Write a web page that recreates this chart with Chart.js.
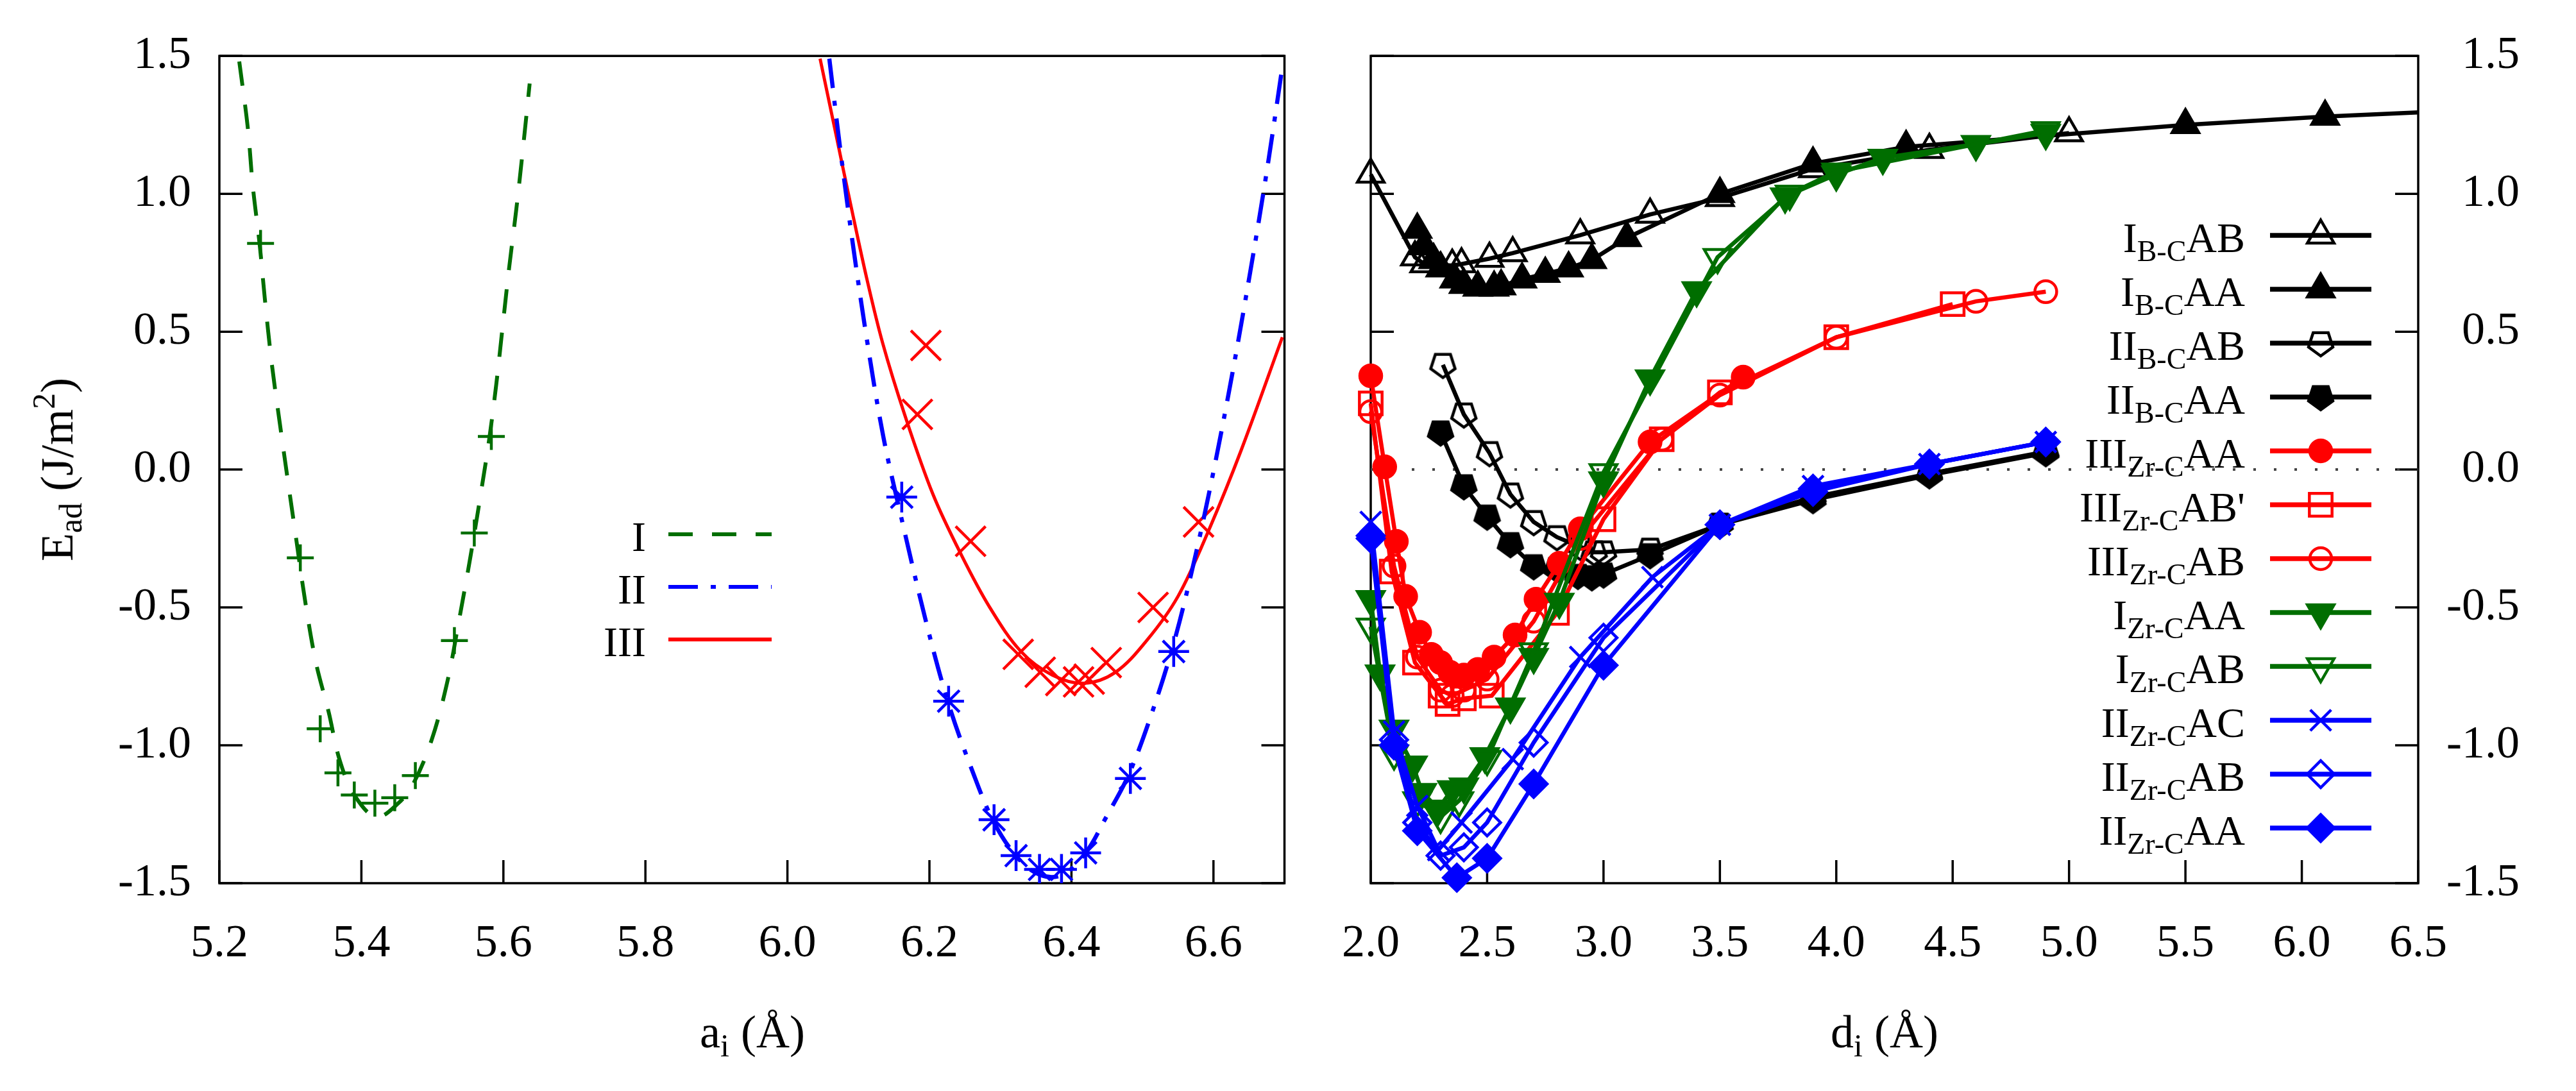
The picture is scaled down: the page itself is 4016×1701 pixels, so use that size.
<!DOCTYPE html>
<html lang="en">
<head>
  <meta charset="UTF-8" />
  <title>Adhesion energy curves</title>
  <script src="https://cdn.jsdelivr.net/npm/chart.js"></script>
  <style>
    body {
      margin: 0;
      background: #fff;
      font-family: "Liberation Serif", "Times New Roman", serif;
    }
    #page {
      position: relative;
      width: 4016px;
      height: 1701px;
    }
    .box {
      position: absolute;
      top: 0;
      height: 1701px;
    }
    .axtitle {
      position: absolute;
      font-size: 72px;
      line-height: 1;
      white-space: nowrap;
      color: #000;
    }
    .lo { position: relative; top: 14px; font-size: 50px; }
    .hi { position: relative; top: -28px; font-size: 50px; }
  </style>
</head>
<body>
  <div id="page">
    <div class="box" style="left:0; width:2040px;"><canvas id="fitChart"></canvas></div>
    <div class="box" style="left:2040px; width:1976px;"><canvas id="sepChart"></canvas></div>

    <div class="axtitle" style="left:89px; top:732px; transform:translate(-50%,-50%) rotate(-90deg);">E<span class="lo">ad</span> (J/m<span class="hi">2</span>)</div>
    <div class="axtitle" style="left:1173px; top:1573px; transform:translateX(-50%);">a<span class="lo">i</span> (Å)</div>
    <div class="axtitle" style="left:2938px; top:1573px; transform:translateX(-50%);">d<span class="lo">i</span> (Å)</div>
  </div>

  <script>
    // ticks
    const leftXTicks = [5.2, 5.4, 5.6, 5.8, 6.0, 6.2, 6.4, 6.6];
    const rightXTicks = [2.0, 2.5, 3.0, 3.5, 4.0, 4.5, 5.0, 5.5, 6.0, 6.5];
    const yTicks = [-1.5, -1.0, -0.5, 0.0, 0.5, 1.0, 1.5];

    // left panel: lattice parameter scans (fits + computed points)
    const fitI = [[5.228,1.48],[5.240,1.24],[5.247,1.03],[5.257,0.81],[5.264,0.62],[5.274,0.38],[5.285,0.17],
      [5.297,-0.05],[5.307,-0.23],[5.321,-0.48],[5.336,-0.70],[5.354,-0.88],[5.369,-1.05],[5.390,-1.18],
      [5.421,-1.26],[5.452,-1.21],[5.473,-1.14],[5.499,-0.98],[5.521,-0.77],[5.538,-0.54],[5.554,-0.31],
      [5.568,-0.09],[5.580,0.11],[5.590,0.31],[5.599,0.52],[5.608,0.73],[5.618,0.94],[5.627,1.15],[5.637,1.40]];
    const fitII = [[6.059,1.49],[6.074,1.17],[6.092,0.82],[6.112,0.47],[6.135,0.12],[6.160,-0.17],[6.196,-0.56],
      [6.227,-0.85],[6.260,-1.09],[6.291,-1.28],[6.325,-1.41],[6.356,-1.47],[6.387,-1.47],[6.420,-1.39],
      [6.449,-1.26],[6.480,-1.11],[6.511,-0.90],[6.544,-0.63],[6.573,-0.33],[6.599,-0.02],[6.626,0.34],
      [6.652,0.72],[6.675,1.08],[6.697,1.46]];
    const fitIII = [[6.046,1.49],[6.068,1.22],[6.090,0.95],[6.112,0.69],[6.134,0.46],[6.165,0.20],[6.205,-0.09],
      [6.245,-0.31],[6.285,-0.50],[6.329,-0.66],[6.373,-0.745],[6.418,-0.775],[6.462,-0.735],[6.506,-0.62],
      [6.550,-0.46],[6.595,-0.21],[6.639,0.07],[6.697,0.48]];
    const ptsI = [[5.258,0.82],[5.314,-0.32],[5.342,-0.94],[5.367,-1.10],[5.390,-1.18],[5.419,-1.21],
      [5.447,-1.19],[5.476,-1.11],[5.531,-0.62],[5.559,-0.23],[5.583,0.12]];
    const ptsII = [[6.161,-0.10],[6.227,-0.84],[6.291,-1.27],[6.322,-1.40],[6.355,-1.45],[6.386,-1.45],
      [6.420,-1.39],[6.483,-1.12],[6.544,-0.66]];
    const ptsIII = [[6.195,0.45],[6.183,0.20],[6.258,-0.26],[6.325,-0.67],[6.356,-0.735],[6.385,-0.765],
      [6.410,-0.77],[6.425,-0.76],[6.449,-0.70],[6.515,-0.50],[6.579,-0.19]];

    // right panel: separation scans
    const ibcAB = [[2.00,1.07],[2.19,0.77],[2.23,0.745],[2.35,0.74],[2.39,0.745],[2.51,0.765],[2.61,0.785],
      [2.90,0.85],[3.20,0.925],[3.50,0.985],[3.90,1.09],[4.40,1.16],[5.00,1.22]];
    const ibcAA = [[2.20,0.87],[2.23,0.81],[2.27,0.76],[2.30,0.73],[2.36,0.69],[2.40,0.67],[2.46,0.66],
      [2.53,0.66],[2.56,0.665],[2.65,0.69],[2.75,0.71],[2.85,0.73],[2.95,0.76],[3.10,0.84],[3.50,1.00],
      [3.90,1.11],[4.30,1.17],[5.50,1.25],[6.10,1.28],[6.50,1.295]];
    const iibcAB = [[2.31,0.38],[2.40,0.20],[2.51,0.06],[2.60,-0.09],[2.70,-0.19],[2.80,-0.245],[2.90,-0.28],
      [2.96,-0.30],[3.00,-0.30],[3.20,-0.29],[3.50,-0.20],[3.90,-0.10],[4.40,-0.015],[4.90,0.065]];
    const iibcAA = [[2.30,0.135],[2.40,-0.06],[2.50,-0.17],[2.60,-0.27],[2.70,-0.35],[2.80,-0.36],[2.89,-0.385],
      [2.95,-0.39],[3.00,-0.38],[3.20,-0.31],[3.50,-0.20],[3.90,-0.11],[4.40,-0.02],[4.90,0.06]];
    const iiizrAA = [[2.00,0.34],[2.06,0.01],[2.11,-0.26],[2.15,-0.46],[2.21,-0.59],[2.26,-0.67],[2.30,-0.70],
      [2.34,-0.735],[2.40,-0.745],[2.46,-0.725],[2.53,-0.68],[2.62,-0.60],[2.71,-0.47],[2.81,-0.34],
      [2.90,-0.215],[3.20,0.10],[3.60,0.335]];
    const iiizrABp = [[2.00,0.24],[2.09,-0.37],[2.19,-0.70],[2.30,-0.82],[2.33,-0.85],[2.40,-0.83],[2.52,-0.82],
      [2.80,-0.52],[3.00,-0.18],[3.25,0.11],[3.50,0.28],[4.00,0.48],[4.50,0.60]];
    const iiizrAB = [[2.00,0.21],[2.10,-0.35],[2.20,-0.68],[2.30,-0.80],[2.35,-0.82],[2.40,-0.80],[2.50,-0.76],
      [2.70,-0.55],[2.90,-0.25],[3.25,0.11],[3.50,0.27],[4.00,0.48],[4.60,0.61],[4.90,0.645]];
    const izrAA = [[2.00,-0.47],[2.04,-0.74],[2.10,-0.94],[2.18,-1.07],[2.22,-1.17],[2.29,-1.23],[2.35,-1.16],
      [2.40,-1.15],[2.49,-1.04],[2.60,-0.86],[2.70,-0.68],[2.81,-0.48],[3.00,-0.04],[3.20,0.33],[3.40,0.65],
      [3.78,0.99],[4.00,1.07],[4.20,1.13],[4.60,1.18],[4.90,1.22]];
    const izrAB = [[2.00,-0.57],[2.10,-1.03],[2.20,-1.20],[2.30,-1.26],[2.38,-1.20],[2.50,-1.05],[2.70,-0.66],
      [3.00,-0.01],[3.49,0.77],[3.80,1.00],[4.00,1.08],[4.90,1.23]];
    const iizrAC = [[2.00,-0.19],[2.10,-0.95],[2.20,-1.22],[2.29,-1.38],[2.39,-1.28],[2.61,-1.05],[2.90,-0.68],
      [3.21,-0.39],[3.50,-0.20],[3.90,-0.06],[4.40,0.02],[4.90,0.10]];
    const iizrAB = [[2.00,-0.24],[2.10,-0.98],[2.20,-1.28],[2.30,-1.40],[2.40,-1.37],[2.50,-1.28],[2.70,-0.99],
      [3.00,-0.61],[3.50,-0.20],[3.90,-0.07],[4.40,0.02],[4.90,0.10]];
    const iizrAA = [[2.00,-0.25],[2.10,-1.00],[2.20,-1.31],[2.37,-1.48],[2.50,-1.41],[2.70,-1.14],[3.00,-0.71],
      [3.50,-0.20],[3.90,-0.08],[4.40,0.02],[4.90,0.10]];
    const zeroLine = [[2.0,0],[6.5,0]];

    const GREEN = "#006e00", BLUE = "#0000ff", RED = "#ff0000", BLACK = "#000000";
    const NONE = "rgba(0,0,0,0)";

    Chart.defaults.font.family = "'Liberation Serif', 'Times New Roman', serif";
    Chart.defaults.color = "#000";

    const xy = arr => arr.map(([x, y]) => ({ x, y }));

    // pentagon marker (point down) drawn once into a small canvas
    function pentagon(filled) {
      const c = document.createElement("canvas");
      c.width = 52; c.height = 52;
      const g = c.getContext("2d");
      g.beginPath();
      for (let k = 0; k < 5; k++) {
        const a = Math.PI / 2 + k * 2 * Math.PI / 5;
        const px = 26 + 20 * Math.cos(a), py = 26 + 20 * Math.sin(a);
        if (k) g.lineTo(px, py); else g.moveTo(px, py);
      }
      g.closePath();
      g.lineWidth = 4.5;
      g.strokeStyle = BLACK;
      if (filled) { g.fillStyle = BLACK; g.fill(); }
      g.stroke();
      return c;
    }

    // box + inward ticks like gnuplot (no top ticks)
    const framePlugin = {
      id: "frame",
      beforeDatasetsDraw(chart) {
        const { ctx, chartArea: a, scales } = chart;
        const yS = scales.y;
        ctx.save();
        ctx.strokeStyle = BLACK;
        ctx.lineWidth = 3.5;
        ctx.strokeRect(a.left, a.top, a.right - a.left, a.bottom - a.top);
        ctx.beginPath();
        scales.x.ticks.forEach(t => {
          const px = scales.x.getPixelForValue(t.value);
          ctx.moveTo(px, a.bottom);
          ctx.lineTo(px, a.bottom - 36);
        });
        yS.ticks.forEach(t => {
          const py = yS.getPixelForValue(t.value);
          ctx.moveTo(a.left, py); ctx.lineTo(a.left + 36, py);
          ctx.moveTo(a.right, py); ctx.lineTo(a.right - 36, py);
        });
        ctx.stroke();
        ctx.restore();
      }
    };

    // key with subscripts, drawn inside the plot
    function keyPlugin(id, items, cfg) {
      return {
        id,
        afterDatasetsDraw(chart) {
          const ctx = chart.ctx;
          const off = chart.canvas.parentNode.offsetLeft;
          items.forEach((it, i) => {
            const ds = chart.data.datasets[it.ds];
            const y = cfg.y0 + i * cfg.dy;
            const mainFont = cfg.size + "px 'Liberation Serif', serif";
            const subFont = cfg.subSize + "px 'Liberation Serif', serif";
            ctx.save();
            ctx.fillStyle = BLACK;
            ctx.textBaseline = "alphabetic";
            ctx.font = mainFont;
            const w1 = ctx.measureText(it.main).width;
            const w3 = ctx.measureText(it.tail || "").width;
            ctx.font = subFont;
            const w2 = it.sub ? ctx.measureText(it.sub).width : 0;
            let x = cfg.textRight - off - (w1 + w2 + w3);
            ctx.font = mainFont;
            ctx.fillText(it.main, x, y + cfg.base);
            x += w1;
            if (it.sub) {
              ctx.font = subFont;
              ctx.fillText(it.sub, x, y + cfg.base + cfg.subDrop);
              x += w2;
            }
            if (it.tail) {
              ctx.font = mainFont;
              ctx.fillText(it.tail, x, y + cfg.base);
            }
            // line sample
            ctx.strokeStyle = ds.borderColor;
            ctx.lineWidth = cfg.lineWidth || ds.borderWidth;
            ctx.setLineDash(ds.borderDash || []);
            ctx.beginPath();
            ctx.moveTo(cfg.x0 - off, y);
            ctx.lineTo(cfg.x1 - off, y);
            ctx.stroke();
            ctx.setLineDash([]);
            if (it.marker) {
              ctx.fillStyle = ds.pointBackgroundColor;
              ctx.strokeStyle = ds.pointBorderColor;
              ctx.lineWidth = ds.pointBorderWidth;
              Chart.helpers.drawPoint(ctx, {
                pointStyle: ds.pointStyle,
                radius: ds.keyRadius,
                rotation: ds.pointRotation || 0,
                borderWidth: ds.pointBorderWidth
              }, (cfg.x0 + cfg.x1) / 2 - off, y);
            }
            ctx.restore();
          });
        }
      };
    }

    function axes(xMin, xMax, xTicks, yPos, yWidth) {
      return {
        x: {
          type: "linear", min: xMin, max: xMax,
          afterBuildTicks: s => { s.ticks = xTicks.map(v => ({ value: v })); },
          afterFit: s => { s.height = 324; },
          grid: { display: false, drawTicks: false, tickLength: 0 },
          border: { display: false },
          ticks: { autoSkip: false, maxRotation: 0, padding: 52, font: { size: 72 }, callback: v => v.toFixed(1) }
        },
        y: {
          type: "linear", position: yPos, min: -1.5, max: 1.5,
          afterBuildTicks: s => { s.ticks = yTicks.map(v => ({ value: v })); },
          afterFit: s => { s.width = yWidth; },
          grid: { display: false, drawTicks: false, tickLength: 0 },
          border: { display: false },
          ticks: {
            padding: 44, font: { size: 72 }, callback: v => v.toFixed(1),
            crossAlign: yPos === "right" ? "far" : "near"
          }
        }
      };
    }

    const common = {
      responsive: true,
      maintainAspectRatio: false,
      animation: false,
      devicePixelRatio: 1,
      plugins: { legend: { display: false }, tooltip: { enabled: false } },
      elements: { line: { tension: 0 } }
    };

    // ----- left panel
    const curve = (data, color, dash, width) => ({
      data: xy(data), borderColor: color, borderWidth: width, borderDash: dash,
      pointRadius: 0, tension: 0.35, fill: false
    });
    const marks = (data, color, style, r) => ({
      data: xy(data), showLine: false, pointStyle: style, pointRadius: r,
      pointBorderColor: color, pointBackgroundColor: color, pointBorderWidth: 4.5, borderColor: color
    });

    new Chart(document.getElementById("fitChart"), {
      type: "line",
      data: {
        datasets: [
          curve(fitI, GREEN, [38, 30], 6),
          curve(fitII, BLUE, [46, 20, 8, 20], 6.5),
          curve(fitIII, RED, [], 5),
          marks(ptsI, GREEN, "cross", 21),
          marks(ptsII, BLUE, "star", 24),
          marks(ptsIII, RED, "crossRot", 33)
        ]
      },
      options: Object.assign({}, common, {
        layout: { padding: { left: 0, right: 35, top: 87, bottom: 0 } },
        scales: axes(5.2, 6.7, leftXTicks, "left", 342)
      }),
      plugins: [framePlugin, keyPlugin("keyL", [
        { main: "I", ds: 0 }, { main: "II", ds: 1 }, { main: "III", ds: 2 }
      ], { textRight: 1007, x0: 1042, x1: 1203, y0: 833, dy: 82, size: 66, subSize: 46, base: 26, subDrop: 14, lineWidth: 6 })]
    });

    // ----- right panel
    const PENT_OPEN = pentagon(false), PENT_FULL = pentagon(true);
    const series = (data, color, style, r, hollow, extra) => Object.assign({
      data: xy(data), borderColor: color, borderWidth: 6.5,
      pointStyle: style, pointRadius: r, keyRadius: r, pointBorderColor: color,
      pointBackgroundColor: hollow ? NONE : color, pointBorderWidth: 4.5, clip: false
    }, extra || {});

    const rightSets = [
      series(ibcAB, BLACK, "triangle", 24, true, { order: 12 }),
      series(ibcAA, BLACK, "triangle", 24, false, {
        order: 11, pointRadius: c => (c.dataIndex === ibcAA.length - 1 ? 0 : 24)
      }),
      series(iibcAB, BLACK, PENT_OPEN, 20, true, { order: 10 }),
      series(iibcAA, BLACK, PENT_FULL, 20, false, { order: 9 }),
      series(iiizrAA, RED, "circle", 17, false, { order: 8 }),
      series(iiizrABp, RED, "rect", 25, true, { order: 7 }),
      series(iiizrAB, RED, "circle", 17, true, { order: 6 }),
      series(izrAA, GREEN, "triangle", 24, false, { order: 5, pointRotation: 180 }),
      series(izrAB, GREEN, "triangle", 24, true, { order: 4, pointRotation: 180 }),
      series(iizrAC, BLUE, "crossRot", 23, false, { order: 3 }),
      series(iizrAB, BLUE, "rectRot", 21, true, { order: 2 }),
      series(iizrAA, BLUE, "rectRot", 21, false, { order: 1 }),
      { data: xy(zeroLine), borderColor: "#444", borderWidth: 4, borderDash: [4, 28], pointRadius: 0, order: 20 }
    ];

    const rightKey = [
      { main: "I", sub: "B-C", tail: "AB", ds: 0, marker: true },
      { main: "I", sub: "B-C", tail: "AA", ds: 1, marker: true },
      { main: "II", sub: "B-C", tail: "AB", ds: 2, marker: true },
      { main: "II", sub: "B-C", tail: "AA", ds: 3, marker: true },
      { main: "III", sub: "Zr-C", tail: "AA", ds: 4, marker: true },
      { main: "III", sub: "Zr-C", tail: "AB'", ds: 5, marker: true },
      { main: "III", sub: "Zr-C", tail: "AB", ds: 6, marker: true },
      { main: "I", sub: "Zr-C", tail: "AA", ds: 7, marker: true },
      { main: "I", sub: "Zr-C", tail: "AB", ds: 8, marker: true },
      { main: "II", sub: "Zr-C", tail: "AC", ds: 9, marker: true },
      { main: "II", sub: "Zr-C", tail: "AB", ds: 10, marker: true },
      { main: "II", sub: "Zr-C", tail: "AA", ds: 11, marker: true }
    ];

    new Chart(document.getElementById("sepChart"), {
      type: "line",
      data: { datasets: rightSets },
      options: Object.assign({}, common, {
        layout: { padding: { left: 67, right: 88, top: 87, bottom: 0 } },
        scales: axes(2.0, 6.5, rightXTicks, "right", 158)
      }),
      plugins: [framePlugin, keyPlugin("keyR", rightKey,
        { textRight: 3500, x0: 3539, x1: 3697, y0: 367, dy: 84.0, size: 66, subSize: 46, base: 26, subDrop: 14, lineWidth: 7.5 })]
    });
  </script>
</body>
</html>
